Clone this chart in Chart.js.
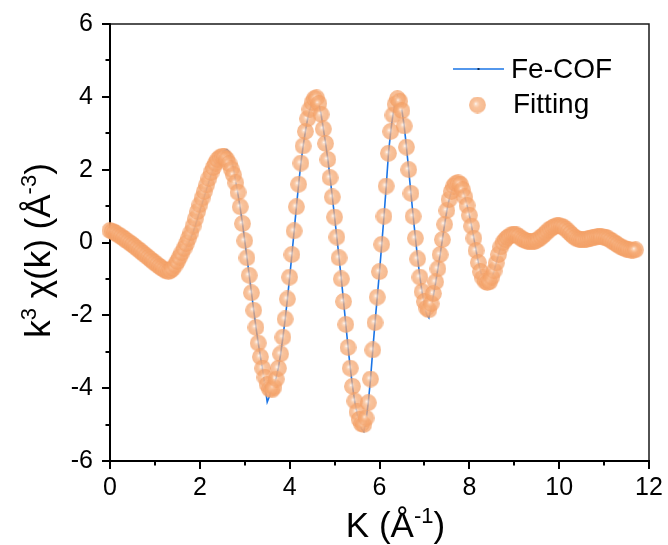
<!DOCTYPE html>
<html>
<head>
<meta charset="utf-8">
<script src="https://cdn.jsdelivr.net/npm/chart.js@4.4.1/dist/chart.umd.min.js"></script>
<style>
  html, body { margin: 0; padding: 0; background: #ffffff; }
  canvas { display: block; }
</style>
</head>
<body>
<canvas id="chart" width="668" height="545"></canvas>
<script>
// Wavenumber grid (Å^-1)
const kValues = [
  0,0.05,0.1,0.15,0.2,0.25,0.3,0.35,0.4,0.45,0.5,0.55,0.6,0.65,0.7,0.75,0.8,0.85,0.9,0.95,
  1,1.05,1.1,1.15,1.2,1.25,1.3,1.35,1.4,1.45,1.5,1.55,1.6,1.65,1.7,1.75,1.8,1.85,1.9,1.95,
  2,2.05,2.1,2.15,2.2,2.25,2.3,2.35,2.4,2.45,2.5,2.55,2.6,2.65,2.7,2.75,2.8,2.85,2.9,2.95,
  3,3.05,3.1,3.15,3.2,3.25,3.3,3.35,3.4,3.45,3.5,3.55,3.6,3.65,3.7,3.75,3.8,3.85,3.9,3.95,
  4,4.05,4.1,4.15,4.2,4.25,4.3,4.35,4.4,4.45,4.5,4.55,4.6,4.65,4.7,4.75,4.8,4.85,4.9,4.95,
  5,5.05,5.1,5.15,5.2,5.25,5.3,5.35,5.4,5.45,5.5,5.55,5.6,5.65,5.7,5.75,5.8,5.85,5.9,5.95,
  6,6.05,6.1,6.15,6.2,6.25,6.3,6.35,6.4,6.45,6.5,6.55,6.6,6.65,6.7,6.75,6.8,6.85,6.9,6.95,
  7,7.05,7.1,7.15,7.2,7.25,7.3,7.35,7.4,7.45,7.5,7.55,7.6,7.65,7.7,7.75,7.8,7.85,7.9,7.95,
  8,8.05,8.1,8.15,8.2,8.25,8.3,8.35,8.4,8.45,8.5,8.55,8.6,8.65,8.7,8.75,8.8,8.85,8.9,8.95,
  9,9.05,9.1,9.15,9.2,9.25,9.3,9.35,9.4,9.45,9.5,9.55,9.6,9.65,9.7,9.75,9.8,9.85,9.9,9.95,
  10,10.05,10.1,10.15,10.2,10.25,10.3,10.35,10.4,10.45,10.5,10.55,10.6,10.65,10.7,10.75,10.8,10.85,10.9,10.95,
  11,11.05,11.1,11.15,11.2,11.25,11.3,11.35,11.4,11.45,11.5,11.55,11.6,11.65,11.7
];

// Measured k^3-weighted EXAFS of Fe-COF
const feCofChi = [
  0.33,0.31,0.28,0.24,0.20,0.16,0.12,0.07,0.03,-0.02,-0.06,-0.11,-0.16,-0.21,-0.26,-0.31,-0.36,-0.41,-0.46,-0.51,
  -0.56,-0.61,-0.66,-0.70,-0.74,-0.78,-0.80,-0.78,-0.73,-0.65,-0.55,-0.44,-0.33,-0.22,-0.12,0.00,0.13,0.29,0.47,0.67,
  0.87,1.07,1.27,1.47,1.67,1.86,2.03,2.18,2.31,2.41,2.48,2.53,2.55,2.49,2.30,2.00,1.66,1.32,0.94,0.52,
  0.05,-0.42,-0.90,-1.38,-1.86,-2.33,-2.76,-3.14,-3.52,-3.92,-4.38,-4.22,-4.02,-3.90,-3.70,-3.43,-3.06,-2.60,-2.10,-1.55,
  -0.95,-0.33,0.32,0.98,1.60,2.18,2.65,3.05,3.40,3.66,3.82,3.92,3.95,3.80,3.52,3.12,2.72,2.28,1.78,1.25,
  0.70,0.15,-0.42,-1.00,-1.62,-2.25,-2.88,-3.45,-3.95,-4.38,-4.70,-4.95,-5.12,-5.19,-4.88,-4.40,-3.75,-2.95,-2.20,-1.50,
  -0.80,-0.05,0.72,1.55,2.45,3.05,3.52,3.85,4.02,3.92,3.62,3.20,2.62,2.00,1.35,0.72,0.12,-0.45,-0.95,-1.38,
  -1.72,-1.98,-2.07,-1.78,-1.45,-1.10,-0.72,-0.33,0.08,0.50,0.88,1.18,1.40,1.55,1.62,1.64,1.60,1.45,1.25,1.02,
  0.75,0.45,0.12,-0.22,-0.55,-0.80,-0.97,-1.06,-1.10,-1.08,-0.95,-0.78,-0.56,-0.33,-0.12,0.00,0.08,0.14,0.18,0.21,
  0.22,0.21,0.17,0.12,0.08,0.05,0.03,0.02,0.02,0.03,0.06,0.10,0.15,0.20,0.26,0.32,0.37,0.41,0.44,0.46,
  0.46,0.45,0.42,0.37,0.31,0.25,0.19,0.14,0.10,0.08,0.07,0.07,0.08,0.10,0.12,0.14,0.15,0.16,0.16,0.16,
  0.15,0.13,0.10,0.06,0.02,-0.02,-0.06,-0.10,-0.13,-0.16,-0.18,-0.20,-0.21,-0.21,-0.20
];

// Fitted curve
const fittingChi = [
  0.33,0.31,0.28,0.24,0.20,0.16,0.12,0.07,0.03,-0.02,-0.06,-0.11,-0.16,-0.21,-0.26,-0.31,-0.36,-0.41,-0.46,-0.51,
  -0.56,-0.61,-0.66,-0.70,-0.74,-0.78,-0.80,-0.77,-0.71,-0.62,-0.52,-0.40,-0.28,-0.16,-0.03,0.12,0.27,0.45,0.65,0.85,
  1.04,1.22,1.40,1.58,1.76,1.92,2.06,2.18,2.28,2.34,2.37,2.35,2.28,2.17,2.02,1.86,1.64,1.38,0.98,0.52,
  0.05,-0.42,-0.90,-1.38,-1.86,-2.33,-2.76,-3.14,-3.45,-3.70,-3.90,-4.02,-4.05,-3.97,-3.75,-3.45,-3.06,-2.60,-2.10,-1.55,
  -0.95,-0.33,0.32,0.98,1.60,2.18,2.65,3.05,3.40,3.66,3.84,3.95,3.97,3.82,3.52,3.12,2.72,2.28,1.78,1.25,
  0.70,0.15,-0.42,-1.00,-1.62,-2.25,-2.88,-3.45,-3.95,-4.35,-4.65,-4.86,-4.98,-5.00,-4.82,-4.40,-3.75,-2.95,-2.20,-1.50,
  -0.80,-0.05,0.72,1.55,2.45,3.05,3.50,3.80,3.95,3.88,3.62,3.20,2.62,2.00,1.35,0.72,0.12,-0.45,-0.95,-1.35,
  -1.62,-1.80,-1.85,-1.68,-1.40,-1.08,-0.72,-0.33,0.08,0.50,0.88,1.18,1.40,1.55,1.62,1.64,1.60,1.45,1.25,1.02,
  0.75,0.45,0.12,-0.22,-0.55,-0.80,-0.97,-1.06,-1.10,-1.08,-0.95,-0.78,-0.56,-0.33,-0.12,0.00,0.08,0.14,0.18,0.21,
  0.22,0.21,0.17,0.12,0.08,0.05,0.03,0.02,0.02,0.03,0.06,0.10,0.15,0.20,0.26,0.32,0.37,0.41,0.44,0.46,
  0.46,0.45,0.42,0.37,0.31,0.25,0.19,0.14,0.10,0.08,0.07,0.07,0.08,0.10,0.12,0.14,0.15,0.16,0.16,0.16,
  0.15,0.13,0.10,0.06,0.02,-0.02,-0.06,-0.10,-0.13,-0.16,-0.18,-0.20,-0.21,-0.21,-0.20
];

const xTickValues = [0, 2, 4, 6, 8, 10, 12];
const yTickValues = [-6, -4, -2, 0, 2, 4, 6];
const seriesNames = ['Fe-COF', 'Fitting'];

const FONT = '"Liberation Sans", Arial, Helvetica, sans-serif';
const LINE_BLUE = '#1a74e6';
const BALL_SIZE = 17;

// Shaded translucent sphere used as the marker of the fitted curve
function makeBall(d) {
  const c = document.createElement('canvas');
  c.width = d; c.height = d;
  const g = c.getContext('2d');
  const r = d / 2;
  const grad = g.createRadialGradient(r - 1.8, r - 1.3, 0, r, r, r);
  grad.addColorStop(0.0, 'rgba(255,255,255,0.95)');
  grad.addColorStop(0.15, 'rgba(250,212,184,0.8)');
  grad.addColorStop(0.42, 'rgba(246,174,122,0.74)');
  grad.addColorStop(0.93, 'rgba(243,160,102,0.72)');
  grad.addColorStop(1.0, 'rgba(243,160,102,0.5)');
  g.fillStyle = grad;
  g.beginPath();
  g.arc(r, r, r, 0, Math.PI * 2);
  g.fill();
  return c;
}
const ball = makeBall(BALL_SIZE);

function toPoints(xs, ys) {
  return xs.map((x, i) => ({ x: x, y: ys[i] }));
}

// Axes frame, major/minor ticks (drawn under the data)
const framePlugin = {
  id: 'framePlugin',
  beforeDatasetsDraw(chart) {
    const { ctx, chartArea: a, scales: { x, y } } = chart;
    ctx.save();
    ctx.strokeStyle = '#1a1a1a';
    ctx.lineWidth = 1.5;
    ctx.beginPath();
    ctx.moveTo(a.left, a.top);
    ctx.lineTo(a.right, a.top);
    ctx.lineTo(a.right, a.bottom);
    ctx.stroke();

    ctx.strokeStyle = '#000';
    ctx.lineWidth = 2;
    ctx.beginPath();
    ctx.moveTo(a.left, a.top - 0.75);
    ctx.lineTo(a.left, a.bottom);
    ctx.lineTo(a.right + 1, a.bottom);
    ctx.stroke();

    ctx.lineWidth = 2;
    ctx.beginPath();
    for (let v = x.min; v <= x.max + 1e-9; v += 1) {
      const px = Math.round(x.getPixelForValue(v));
      const len = (v % 2 === 0) ? 8 : 4.5;
      ctx.moveTo(px, a.bottom);
      ctx.lineTo(px, a.bottom + len);
    }
    for (let v = y.min; v <= y.max + 1e-9; v += 1) {
      const py = Math.round(y.getPixelForValue(v));
      const len = (Math.abs(v) % 2 === 0) ? 8 : 4.5;
      ctx.moveTo(a.left, py);
      ctx.lineTo(a.left - len, py);
    }
    ctx.stroke();
    ctx.restore();
  }
};

// Axis titles with superscripts, and the in-plot legend
const textPlugin = {
  id: 'textPlugin',
  afterDraw(chart) {
    const { ctx, chartArea: a } = chart;
    ctx.save();
    ctx.fillStyle = '#000';
    ctx.textBaseline = 'alphabetic';
    ctx.textAlign = 'left';

    // runs: [text, isSuperscript]
    function drawRuns(runs, startX, baseY, size) {
      let cx = startX;
      for (const [t, sup] of runs) {
        const fs = sup ? Math.round(size * 0.62) : size;
        ctx.font = fs + 'px ' + FONT;
        ctx.fillText(t, cx, sup ? baseY - size * 0.40 : baseY);
        cx += ctx.measureText(t).width;
      }
      return cx - startX;
    }
    function runsWidth(runs, size) {
      let w = 0;
      for (const [t, sup] of runs) {
        const fs = sup ? Math.round(size * 0.62) : size;
        ctx.font = fs + 'px ' + FONT;
        w += ctx.measureText(t).width;
      }
      return w;
    }

    const titleSize = 35;
    // x title
    const xRuns = [['K (Å', false], ['-1', true], [')', false]];
    const xw = runsWidth(xRuns, titleSize);
    const xCenter = (a.left + a.right) / 2 + 16;
    drawRuns(xRuns, xCenter - xw / 2, a.bottom + 76, titleSize);

    // y title (rotated)
    const yRuns = [['k', false], ['3', true], [' χ(k) (Å', false], ['-3', true], [')', false]];
    const yw = runsWidth(yRuns, titleSize);
    ctx.save();
    ctx.translate(50, (a.top + a.bottom) / 2 + 8);
    ctx.rotate(-Math.PI / 2);
    drawRuns(yRuns, -yw / 2, 0, titleSize);
    ctx.restore();

    // legend
    const legSize = 28;
    ctx.font = legSize + 'px ' + FONT;
    const lx0 = a.right - 196, lx1 = a.right - 145, ly = a.top + 45;
    ctx.strokeStyle = LINE_BLUE;
    ctx.lineWidth = 1.6;
    ctx.beginPath();
    ctx.moveTo(lx0, ly);
    ctx.lineTo(lx1, ly);
    ctx.stroke();
    // small line-symbol mark in the middle of the sample
    ctx.fillStyle = '#0b2a55';
    ctx.fillRect((lx0 + lx1) / 2 - 1, ly - 1, 2, 2);
    ctx.fillStyle = '#000';
    ctx.fillText(seriesNames[0], a.right - 138, a.top + 54);
    const bx = a.right - 171.5, by = a.top + 81;
    ctx.drawImage(ball, bx - BALL_SIZE / 2, by - BALL_SIZE / 2, BALL_SIZE, BALL_SIZE);
    ctx.fillStyle = '#000';
    ctx.fillText(seriesNames[1], a.right - 136, a.top + 89);
    ctx.restore();
  }
};

const tickFont = { family: FONT, size: 25 };
// invisible tick marks only used to space the labels away from the axes
const hiddenTicks = (len) => ({
  display: true, drawOnChartArea: false, drawTicks: true,
  tickLength: len, tickColor: 'rgba(0,0,0,0)'
});

new Chart(document.getElementById('chart'), {
  type: 'scatter',
  data: {
    datasets: [
      {
        label: seriesNames[0],
        data: toPoints(kValues, feCofChi),
        showLine: true,
        borderColor: LINE_BLUE,
        borderWidth: 1.6,
        pointRadius: 0,
        tension: 0,
        order: 2
      },
      {
        label: seriesNames[1],
        data: toPoints(kValues, fittingChi),
        showLine: false,
        pointStyle: ball,
        pointRadius: 8,
        clip: false,
        order: 1
      }
    ]
  },
  options: {
    responsive: false,
    animation: false,
    devicePixelRatio: 1,
    layout: { autoPadding: false, padding: { top: 24, right: 19, left: 0, bottom: 0 } },
    plugins: { legend: { display: false }, tooltip: { enabled: false } },
    scales: {
      x: {
        type: 'linear',
        min: 0, max: 12,
        grid: hiddenTicks(12),
        border: { display: false },
        afterBuildTicks: (s) => { s.ticks = xTickValues.map(v => ({ value: v })); },
        afterFit: (s) => { s.height = 84; },
        ticks: { font: tickFont, color: '#000', padding: 0, maxRotation: 0,
                 callback: (v) => String(v) }
      },
      y: {
        type: 'linear',
        min: -6, max: 6,
        grid: hiddenTicks(17),
        border: { display: false },
        afterBuildTicks: (s) => { s.ticks = yTickValues.map(v => ({ value: v })); },
        afterFit: (s) => { s.width = 110; },
        ticks: { font: tickFont, color: '#000', padding: 0,
                 callback: (v) => String(v) }
      }
    }
  },
  plugins: [framePlugin, textPlugin]
});
</script>
</body>
</html>
